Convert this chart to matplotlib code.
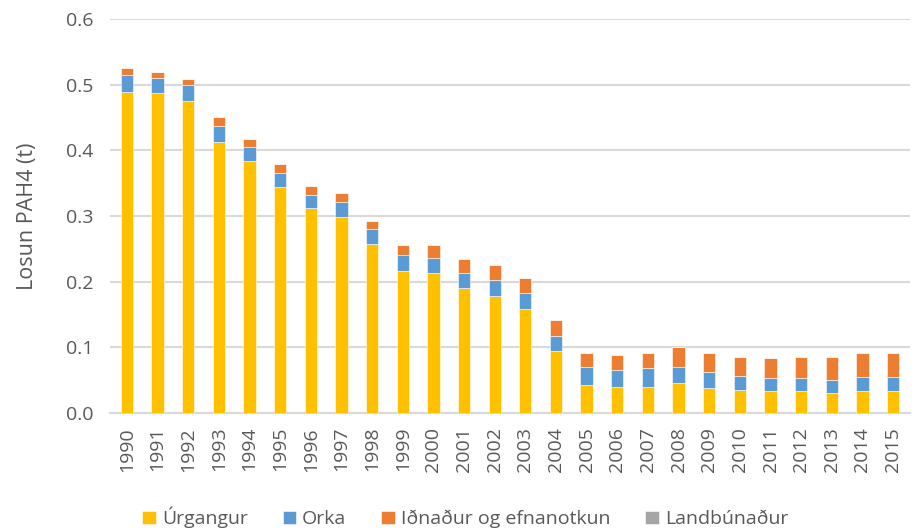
import matplotlib
matplotlib.use("Agg")
import matplotlib.pyplot as plt
import numpy as np

plt.rcParams['font.family'] = ['Open Sans', 'DejaVu Sans']

years = [str(y) for y in range(1990, 2016)]

urgangur = [0.489, 0.487, 0.475, 0.413, 0.383, 0.344, 0.312, 0.299, 0.258, 0.217,
            0.213, 0.191, 0.178, 0.159, 0.094, 0.043, 0.040, 0.040, 0.045, 0.038,
            0.035, 0.033, 0.033, 0.030, 0.033, 0.033]
orka = [0.025, 0.023, 0.024, 0.024, 0.022, 0.022, 0.020, 0.022, 0.022, 0.024,
        0.023, 0.022, 0.025, 0.024, 0.024, 0.027, 0.026, 0.028, 0.025, 0.024,
        0.022, 0.020, 0.020, 0.021, 0.022, 0.022]
idnadur = [0.011, 0.009, 0.009, 0.014, 0.012, 0.013, 0.014, 0.014, 0.013, 0.015,
           0.020, 0.021, 0.022, 0.023, 0.023, 0.021, 0.022, 0.024, 0.030, 0.030,
           0.029, 0.030, 0.033, 0.034, 0.036, 0.036]
landbunadur = [0.0] * 26

series = [
    ("Úrgangur", urgangur, "#FFC000"),
    ("Orka", orka, "#5B9BD5"),
    ("Iðnaður og efnanotkun", idnadur, "#ED7D31"),
    ("Landbúnaður", landbunadur, "#A5A5A5"),
]

text_color = "#595959"

fig = plt.figure(figsize=(9.16, 5.32), dpi=100)
ax = fig.add_axes([110 / 916, 1 - 413 / 532, 800 / 916, 394 / 532])

x = np.arange(len(years))
bottom = np.zeros(len(years))
for name, vals, color in series:
    vals = np.array(vals)
    ax.bar(x, vals, width=0.4, bottom=bottom, color=color, label=name,
           edgecolor="white", linewidth=0.4, zorder=3)
    bottom += vals

ax.set_ylim(0, 0.6)
ax.set_xlim(-0.55, len(years) - 0.45)
ax.set_yticks(np.arange(0, 0.61, 0.1))
ax.set_yticklabels([f"{v:.1f}" for v in np.arange(0, 0.61, 0.1)])
ax.set_xticks(x)
ax.set_xticklabels(years, rotation=90)

ax.grid(axis="y", color="#D9D9D9", linewidth=1.5, zorder=0)
for s in ["top", "right", "left"]:
    ax.spines[s].set_visible(False)
ax.spines["bottom"].set_color("#D9D9D9")
ax.spines["bottom"].set_linewidth(1.5)
ax.tick_params(axis="both", length=0, colors=text_color, labelsize=14)
ax.tick_params(axis="y", pad=12)
ax.tick_params(axis="x", pad=10)

ax.set_ylabel("Losun PAH4 (t)", color=text_color, fontsize=15.5, labelpad=20)

handles, labels = ax.get_legend_handles_labels()
fig.legend(handles, labels, loc="center", bbox_to_anchor=(0.508, 0.027), ncol=4,
           frameon=False, fontsize=14, handlelength=0.7, handleheight=0.7,
           handletextpad=0.3, columnspacing=1.8, labelcolor=text_color)

fig.savefig("out.png", dpi=100)
